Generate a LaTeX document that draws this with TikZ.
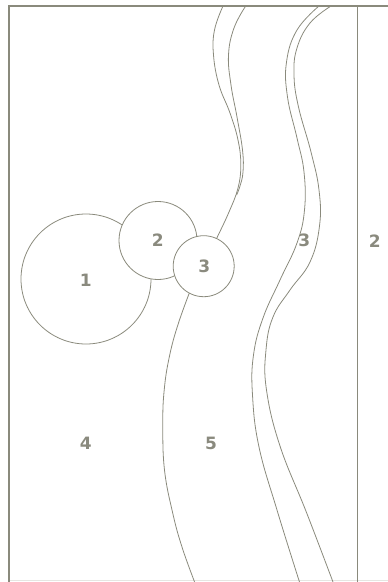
\documentclass[tikz,border=0pt]{standalone}
\usepackage{fontspec}
\newfontfamily\labelfont{DejaVu Sans}[UprightFont={* Bold}]
\definecolor{ln}{HTML}{8A8A7C}
\definecolor{tx}{HTML}{8A8A7E}
\definecolor{faint}{HTML}{E6E6E2}
\begin{document}
\begin{tikzpicture}[x=1pt,y=-1pt,
  frameline/.style={draw=ln,line width=1.4pt},
  bank/.style={draw=ln,line width=0.8pt},
  pond/.style={circle,draw=ln,line width=0.8pt,fill=white,inner sep=0pt},
  lbl/.style={text=tx,font=\labelfont\fontsize{17}{20}\selectfont,inner sep=0pt}]
\useasboundingbox (0,0) rectangle (388,582);
% frame
\coordinate (tl) at (9,6);
\coordinate (tr) at (388,6);
\coordinate (bl) at (9,582);
\coordinate (rt) at (357.5,6);
\coordinate (rb) at (357.5,582);
\coordinate (fbl) at (9,580);
\coordinate (fbr) at (388,580);
\draw[draw=faint,line width=1pt] (fbl) -- (fbr);
\draw[frameline] (tr) -- (tl) -- (bl);
\draw[frameline] (rt) -- (rb);
% banks
\draw[bank] plot[smooth,tension=0.7] coordinates {(223,6) (214.5,30) (213.5,55) (219,85) (230,113) (238,140) (240.8,165) (238,188) (229,212) (216.7,238.3) (213,246)};
\draw[bank] plot[smooth,tension=0.7] coordinates {(245.7,6) (234,28) (228.5,55) (231,85) (237,117) (242.5,150) (243,172) (240,186) (236.6,195)};
\draw[bank] plot[smooth,tension=0.7] coordinates {(319,6) (297,30) (286.5,62) (287.5,97) (297,138) (304,172) (304.5,210) (297,243) (280,280) (263,318) (253.5,355) (252.5,395) (259,447) (277,510) (299.5,582)};
\draw[bank] plot[smooth,tension=0.7] coordinates {(331,6) (310,23) (297,48) (294,75) (298.5,107) (311,152) (319,190) (319.5,226) (310,262) (290,290) (273,317) (266,350) (266.5,390) (280,446) (306.7,513) (333,582)};
\draw[bank] plot[smooth,tension=0.7] coordinates {(192,286) (178.5,323) (169.5,356) (164.2,390) (162.8,425) (164.5,470) (172.7,513) (182,547) (194.6,582)};
% ponds
\node[pond,minimum size=130pt] (p1) at (86,279) {};
\node[pond,minimum size=78pt] (p2) at (158,240.5) {};
\node[pond,minimum size=61pt] (p3) at (203.7,266.2) {};
% labels
\node[lbl] (l1) at (85.8,280.3) {1};
\node[lbl] (l2) at (157.7,240.5) {2};
\node[lbl] (l3) at (204.2,266.3) {3};
\node[lbl] (l3b) at (304.3,240.8) {3};
\node[lbl] (l2b) at (374.7,240.8) {2};
\node[lbl] (l4) at (85.7,443.3) {4};
\node[lbl] (l5) at (211,443) {5};
\end{tikzpicture}
\end{document}
